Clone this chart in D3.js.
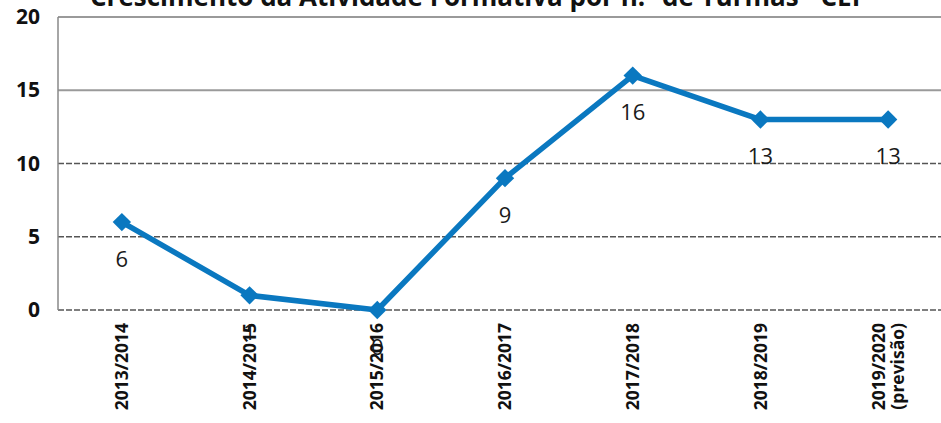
<!DOCTYPE html>
<html>
<head>
<meta charset="utf-8">
<script src="https://cdn.jsdelivr.net/npm/d3@7/dist/d3.min.js"></script>
<style>
  html, body { margin: 0; padding: 0; background: #fff; }
  svg { display: block; }
</style>
</head>
<body>
<svg id="chart" width="941" height="423"></svg>
<script>
// Número de turmas por ano letivo
const categories = ["2013/2014", "2014/2015", "2015/2016", "2016/2017", "2017/2018", "2018/2019", "2019/2020|(previsão)"];
const turmas = [6, 1, 0, 9, 16, 13, 13];
const yTicks = [0, 5, 10, 15, 20];
const title = "Crescimento da Atividade Formativa por n.º de Turmas - CEF";

const svg = d3.select("#chart");
const margin = { left: 58, top: 17, bottom: 310 };
const plotRight = 952;

const x = d3.scaleBand().domain(categories).range([margin.left, plotRight]);
const y = d3.scaleLinear().domain([0, 20]).range([margin.bottom, margin.top]);
const cx = d => x(d) + x.bandwidth() / 2;

// Título (parcialmente cortado no topo)
svg.append("text")
  .attr("x", 478).attr("y", 6)
  .attr("text-anchor", "middle")
  .attr("font-family", "Open Sans, sans-serif")
  .attr("font-weight", 700)
  .attr("font-size", 26)
  .attr("fill", "#111")
  .text(title);

// Linhas de grelha horizontais
svg.append("g").selectAll("line").data(yTicks).join("line")
  .attr("x1", margin.left).attr("x2", 941)
  .attr("y1", d => y(d)).attr("y2", d => y(d))
  .attr("stroke", d => d >= 15 ? "#9a9a9a" : "#555")
  .attr("stroke-width", d => d >= 15 ? 2 : 1.3)
  .attr("stroke-dasharray", d => d >= 15 ? null : "6,2");

// Eixo vertical
svg.append("line")
  .attr("x1", margin.left).attr("x2", margin.left)
  .attr("y1", y(20)).attr("y2", y(0))
  .attr("stroke", "#888").attr("stroke-width", 1.5);

// Rótulos do eixo Y
const yAxis = d3.axisLeft(y).tickValues(yTicks).tickSize(0).tickPadding(18);
const gy = svg.append("g").attr("transform", `translate(${margin.left},0)`).call(yAxis);
gy.select(".domain").remove();
gy.selectAll("text")
  .attr("font-family", "Open Sans, sans-serif")
  .attr("font-weight", 700)
  .attr("font-size", 21)
  .attr("fill", "#111");

// Rótulos do eixo X (rodados)
const gx = svg.append("g");
categories.forEach(c => {
  const lines = c.split("|");
  const t = gx.append("text")
    .attr("transform", `translate(${cx(c)},323) rotate(-90)`)
    .attr("text-anchor", "end")
    .attr("font-family", "Open Sans, sans-serif")
    .attr("font-weight", 700)
    .attr("font-size", 17.5)
    .attr("fill", "#111");
  const off = lines.length > 1 ? -9 : 0;
  lines.forEach((l, i) => {
    t.append("tspan").attr("x", 0).attr("y", off + i * 19).attr("dy", "0.35em").text(l);
  });
});

// Linha da série
const line = d3.line().x((d, i) => cx(categories[i])).y(d => y(d));
svg.append("path")
  .datum(turmas)
  .attr("d", line)
  .attr("fill", "none")
  .attr("stroke", "#0a78c0")
  .attr("stroke-width", 5.5)
  .attr("stroke-linejoin", "round");

// Marcadores em losango
svg.append("g").selectAll("path").data(turmas).join("path")
  .attr("transform", (d, i) => `translate(${cx(categories[i])},${y(d)}) rotate(45)`)
  .attr("d", "M-6.5,-6.5H6.5V6.5H-6.5Z")
  .attr("fill", "#0a78c0");

// Valores
svg.append("g").selectAll("text").data(turmas).join("text")
  .attr("x", (d, i) => cx(categories[i]))
  .attr("y", d => y(d) + 37)
  .attr("dy", "0.35em")
  .attr("text-anchor", "middle")
  .attr("font-family", "Open Sans, sans-serif")
  .attr("font-size", 22)
  .attr("fill", "#1a1a1a")
  .text(d => d);
</script>
</body>
</html>
